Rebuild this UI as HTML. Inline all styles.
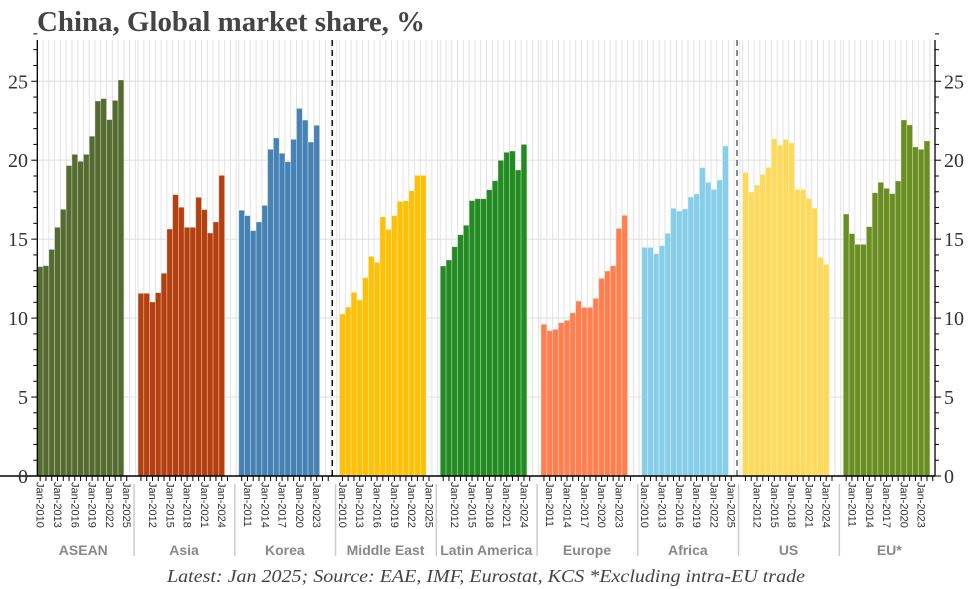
<!DOCTYPE html>
<html><head><meta charset="utf-8"><style>
html,body{margin:0;padding:0;background:#fff;}
svg{display:block;}
</style></head><body>
<svg id="chart" width="972" height="589" xmlns="http://www.w3.org/2000/svg">
<text x="37" y="31" font-family="Liberation Serif, serif" font-weight="bold" font-size="28" fill="#444" textLength="388" lengthAdjust="spacingAndGlyphs">China, Global market share, %</text>
<g id="grid"></g><g id="bars"></g><g id="axes"></g>
<text x="486" y="582" text-anchor="middle" font-family="Liberation Serif, serif" font-style="italic" font-size="18" fill="#444" textLength="638" lengthAdjust="spacingAndGlyphs">Latest: Jan 2025; Source: EAE, IMF, Eurostat, KCS *Excluding intra-EU trade</text>
</svg>
<script>
const groups = ["ASEAN","Asia","Korea","Middle East","Latin America","Europe","Africa","US","EU*"];
const colors = ["#556b2f","#b5400f","#4682b4","#ffc107","#228b22","#ff7f50","#87ceeb","#ffd95a","#6b8e23"];
const years = [2010,2011,2012,2013,2014,2015,2016,2017,2018,2019,2020,2021,2022,2023,2024,2025];
const asean = [13.26,13.32,14.35,15.75,16.89,19.66,20.37,19.93,20.37,21.52,23.75,23.9,22.57,23.79,25.08];
const asia = [11.57,11.57,11.02,11.61,12.84,15.64,17.82,17.02,15.75,15.75,17.65,16.87,15.39,16.09,19.04];
const korea = [16.83,16.49,15.54,16.09,17.14,20.69,21.41,20.44,19.91,21.32,23.28,22.54,21.15,22.21];
const middleEast = [10.26,10.7,11.63,11.15,12.56,13.91,13.53,16.42,15.62,16.49,17.39,17.43,18.07,19.04,19.04];
const latinAmerica = [13.3,13.68,14.52,15.28,15.88,17.44,17.56,17.56,18.13,18.7,19.99,20.5,20.58,19.38,21.0];
const europe = [9.61,9.2,9.29,9.71,9.86,10.34,11.08,10.68,10.68,11.25,12.52,12.98,13.32,15.68,16.51];
const africa = [14.48,14.48,14.08,14.59,15.37,16.95,16.78,16.91,17.67,17.86,19.53,18.6,18.15,18.75,20.9];
const us = [19.23,17.99,18.43,19.1,19.55,21.36,20.96,21.32,21.09,18.15,18.15,17.58,16.97,13.85,13.41];
const eu = [16.59,15.35,14.67,14.67,15.79,17.94,18.6,18.22,17.88,18.68,22.55,22.23,20.84,20.69,21.22];
const labelStart = [2010,2012,2011,2010,2012,2011,2010,2012,2011];
const yTicks = [0,5,10,15,20,25];
const series = [asean,asia,korea,middleEast,latinAmerica,europe,africa,us,eu];

const NS="http://www.w3.org/2000/svg";
const X0=37.3, PITCH=100.75, SLOT=5.77, Y0=476, PXU=15.79, TOP=40, XR=935;
const y = v => Y0 - v*PXU;
const x = (g,i) => X0 + g*PITCH + i*SLOT;
function mk(tag, attrs, parent){const e=document.createElementNS(NS,tag);for(const k in attrs)e.setAttribute(k,attrs[k]);parent.appendChild(e);return e;}
const grid=document.getElementById('grid'), barsG=document.getElementById('bars'), axes=document.getElementById('axes');

for(let g=0;g<groups.length;g++){
  for(let k=0;k<=17;k++){
    const gx=x(g,k); if(gx>XR) continue;
    const l=mk('line',{x1:gx,x2:gx,y1:TOP,y2:Y0,stroke:'#e3e3e3','stroke-width':1},grid);
    
    
  }
}
yTicks.forEach(t=>{
  const l=mk('line',{x1:X0,x2:XR,y1:y(t),y2:y(t),stroke:'#e3e3e3','stroke-width':1.2},grid);
  
  
});
series.forEach((vals,g)=>{
  vals.forEach((v,i)=>{
    const r=mk('rect',{x:x(g,i),y:y(v),width:SLOT,height:Y0-y(v),fill:colors[g],stroke:'rgba(255,255,255,0.45)','stroke-width':0.7},barsG);
    
    
  });
});
[[x(2,16.2),'#111'],[x(6,16.5),'#666']].forEach(([dx,c])=>{
  const l=mk('line',{x1:dx,x2:dx,y1:TOP,y2:Y0,stroke:c,'stroke-width':1.5,'stroke-dasharray':'6,4'},axes);
  
  
});
const la=mk('line',{x1:X0,x2:X0,y1:TOP,y2:Y0,stroke:'#000','stroke-width':1.3},axes);


const ra=mk('line',{x1:XR,x2:XR,y1:TOP,y2:Y0,stroke:'#000','stroke-width':1.3},axes);


const xa=mk('line',{x1:0,x2:XR,y1:Y0,y2:Y0,stroke:'#000','stroke-width':1.5},axes);


for(let t=0;t<=28;t++){
  const len = (t%5===0)?6:4;
  mk('line',{x1:X0-len,x2:X0,y1:y(t),y2:y(t),stroke:'#000','stroke-width':1},axes);
  mk('line',{x1:XR,x2:XR+len,y1:y(t),y2:y(t),stroke:'#000','stroke-width':1},axes);
}
yTicks.forEach(t=>{
  const a=mk('text',{x:28,y:y(t)+7,'text-anchor':'end','font-family':'Liberation Serif, serif','font-size':20,fill:'#333'},axes);
  a.textContent=t;
  
  
  const b=mk('text',{x:944,y:y(t)+7,'text-anchor':'start','font-family':'Liberation Serif, serif','font-size':20,fill:'#333'},axes);
  b.textContent=t;
  
  
});
groups.forEach((name,g)=>{
  years.forEach((yr,i)=>{
    const cx=x(g,i)+SLOT/2;
    mk('line',{x1:cx,x2:cx,y1:Y0,y2:Y0+5,stroke:'#000','stroke-width':1},axes);
    if((yr-labelStart[g])%3===0 && yr>=labelStart[g]){
      const t=mk('text',{x:0,y:0,transform:`translate(${cx-3.5},482) rotate(90)`,'font-family':'Liberation Sans, sans-serif','font-size':11,fill:'#333'},axes);
      t.textContent='Jan-'+yr;
      
      
    }
  });
  const sx=x(g,0)-4;
  if(g>0){
    const s=mk('line',{x1:sx,x2:sx,y1:Y0+8,y2:Y0+80,stroke:'#ccc','stroke-width':1.5},axes);
    
    
  }
  const gl=mk('text',{x:x(g,0)+46,y:555,'text-anchor':'middle','font-family':'Liberation Sans, sans-serif','font-weight':'bold','font-size':14,fill:'#888'},axes);
  gl.textContent=name;
  
  
});
</script>
</body></html>
